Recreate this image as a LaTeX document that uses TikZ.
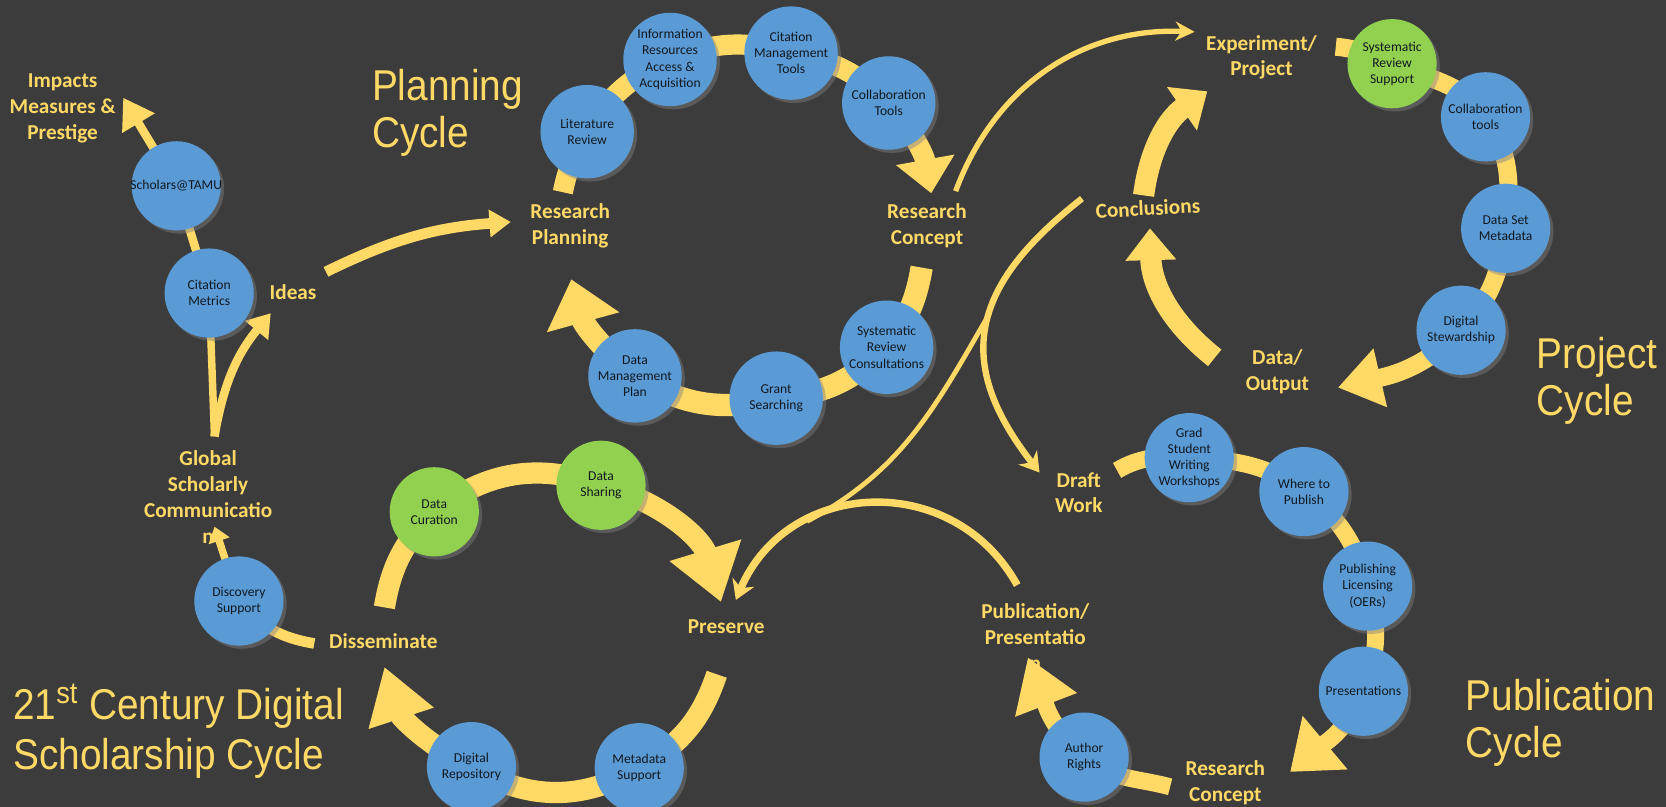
\documentclass[tikz,border=0pt]{standalone}
\usepackage{fontspec}
\setmainfont{Carlito}
\newfontfamily\titlefont[FakeStretch=0.9]{Liberation Sans}
\usepackage{tikz}
\usetikzlibrary{arrows.meta,shadows}
\definecolor{bgdark}{HTML}{3C3C3C}
\definecolor{gold}{HTML}{FFD966}
\definecolor{cblue}{HTML}{5B9BD5}
\definecolor{cgreen}{HTML}{92D050}
\definecolor{cink}{HTML}{111820}
\pgfdeclarelayer{back}
\pgfsetlayers{back,main}

\begin{document}
\begin{tikzpicture}[x=0.5pt, y=-0.5pt,
    circ/.style={circle, fill=cblue, inner sep=0pt, minimum size=42pt, align=center,
        font=\fontsize{6.4}{7.6}\selectfont, text=cink,
        drop shadow={shadow xshift=1.5pt, shadow yshift=-1.5pt, opacity=0.45}},
    pcirc/.style={circ, minimum size=44pt},
    gcirc/.style={circ, fill=cgreen},
    lbl/.style={align=center, text=gold, inner sep=0pt,
        font=\fontsize{10}{12.2}\selectfont\bfseries},
    cycletitle/.style={align=left, anchor=west, text=gold, inner sep=0pt,
        font=\titlefont\fontsize{20.3}{22}\selectfont},
    band/.style={draw=gold, line width=#1}]

    \useasboundingbox (0,0) rectangle (1569,760);
    \begin{pgfonlayer}{back}
        \fill[bgdark] (0,0) rectangle (1569,760);
    \end{pgfonlayer}

    % titles
    \node[cycletitle] (plantitle) at (350,106) {Planning\\Cycle};
    \node[cycletitle, font=\titlefont\fontsize{20.3}{23.5}\selectfont] (dstitle) at (12,689)
        {21\textsuperscript{st} Century Digital\\Scholarship Cycle};
    \node[cycletitle] (prtitle) at (1447,359) {Project\\Cycle};
    \node[cycletitle] (pbtitle) at (1380,681) {Publication\\Cycle};

    % stage labels
    \node[lbl] (impacts) at (59,102) {Impacts\\Measures \&\\Prestige};
    \node[lbl] (ideas) at (276,275) {Ideas};
    \node[lbl] (resplan) at (537,213) {Research\\Planning};
    \node[lbl] (rescon) at (873,213) {Research\\Concept};
    \node[lbl] (global) at (196,468) {Global\\Scholarly\\Communicatio\\n};
    \node[lbl] (dissem) at (361,604) {Disseminate};
    \node[lbl] (preserve) at (684,590) {Preserve};
    \node[lbl] (experiment) at (1188,54) {Experiment/\\Project};
    \node[lbl, rotate=3] (concl) at (1081,196) {Conclusions};
    \node[lbl] (dataout) at (1203,350) {Data/\\Output};
    \node[lbl] (draft) at (1016,464) {Draft\\Work};
    \node[lbl] (pubpres) at (975,600) {Publication/\\Presentatio\\n};
    \node[lbl] (rescon2) at (1154,737) {Research\\Concept};

    % services
    \node[circ] (scholars) at (166,175) {\makebox[0pt]{Scholars@TAMU}};
    \node[circ] (citmet) at (197,276) {Citation\\Metrics};
    \node[pcirc] (litrev) at (553,124) {Literature\\Review};
    \node[pcirc] (infores) at (631,56) {Information\\Resources\\Access \&\\Acquisition};
    \node[pcirc] (citmgmt) at (745,50) {Citation\\Management\\Tools};
    \node[pcirc] (collab) at (837,97) {Collaboration\\Tools};
    \node[pcirc] (sysrev) at (835,327) {Systematic\\Review\\Consultations};
    \node[pcirc] (grant) at (731,375) {Grant\\Searching};
    \node[pcirc] (dmp) at (598,354) {Data\\Management\\Plan};
    \node[circ] (discov) at (225,566) {Discovery\\Support};
    \node[gcirc] (datcur) at (409,482) {Data\\Curation};
    \node[gcirc] (datshare) at (566,457) {Data\\Sharing};
    \node[circ] (digrepo) at (444,722) {Digital\\Repository};
    \node[circ] (metasup) at (602,723) {Metadata\\Support};
    \node[gcirc] (srsup) at (1311,60) {Systematic\\Review\\Support};
    \node[circ] (collabt) at (1399,110) {Collaboration\\tools};
    \node[circ] (dataset) at (1418,215) {Data Set\\Metadata};
    \node[circ] (digstew) at (1376,311) {Digital\\Stewardship};
    \node[circ] (grad) at (1120,431) {Grad\\Student\\Writing\\Workshops};
    \node[circ] (where) at (1228,463) {Where to\\Publish};
    \node[circ] (publ) at (1288,552) {Publishing\\Licensing\\(OERs)};
    \node[circ] (present) at (1284,651) {Presentations};
    \node[circ] (author) at (1021,713) {Author\\Rights};

    % free ends
    \coordinate (pl-a) at (530,181);
    \coordinate (pl-b) at (877,182);
    \coordinate (pl-c) at (868,252);
    \coordinate (pl-d) at (538,263);
    \coordinate (ds-a) at (362,572);
    \coordinate (ds-b) at (679,567);
    \coordinate (ds-c) at (675,635);
    \coordinate (ds-d) at (362,628);
    \coordinate (pr-a) at (1258,44);
    \coordinate (pr-b) at (1260,365);
    \coordinate (do-a) at (1144,337);
    \coordinate (do-b) at (1083,215);
    \coordinate (cc-a) at (1077,184);
    \coordinate (cc-b) at (1137,86);
    \coordinate (pb-a) at (1052,443);
    \coordinate (pb-b) at (1215,727);
    \coordinate (pb-c) at (1102,741);
    \coordinate (pb-d) at (968,619);
    \coordinate (id-a) at (307,256);
    \coordinate (id-b) at (481,209);
    \coordinate (imp-b) at (116,92);
    \coordinate (gl-a) at (202,411);
    \coordinate (gi-b) at (255,295);
    \coordinate (dg-b) at (202,496);
    \coordinate (dd-b) at (296,606);
    \coordinate (rc-a) at (900,180);
    \coordinate (rc-b) at (1125,30);
    \coordinate (cd-a) at (1019,187);
    \coordinate (cd-b) at (979,445);
    \coordinate (br-a) at (932,295);
    \coordinate (br-b) at (760,491);
    \coordinate (pp-a) at (958,551);
    \coordinate (pp-b) at (693,565);

    \begin{pgfonlayer}{back}
    % planning cycle
    \path[band=9.5pt, -{Triangle[length=16pt,width=27pt]}]
        (pl-a) to[bend left=10] (litrev.center) to[bend left=17] (infores.center)
        to[bend left=19] (citmgmt.center) to[bend left=17] (collab.center)
        to[bend left=15] (pl-b);
    \path[band=10.5pt, -{Triangle[length=21pt,width=34pt]}]
        (pl-c) to[bend left=14] (sysrev.center) to[bend left=20] (grant.center)
        to[bend left=23] (dmp.center) to[bend left=18] (pl-d);

    % digital scholarship cycle
    \path[band=10pt, -{Triangle[length=25.5pt,width=33.5pt]}]
        (ds-a) to[bend left=18] (datcur.center) to[bend left=29] (datshare.center)
        to[bend left=29] (ds-b);
    \path[band=10pt, -{Triangle[length=25.5pt,width=30.5pt]}]
        (ds-c) to[bend left=21] (metasup.center) to[bend left=31] (digrepo.center)
        to[bend left=23] (ds-d);
    \path[band=5pt] (discov.center) to[bend right=20] (dd-b);
    \path[band=3.5pt, -{Triangle[length=7pt,width=10pt]}] (discov.center) -- (dg-b);
    \path[band=3.5pt] (gl-a) -- (citmet.center);
    \path[band=4pt, -{Triangle[length=10.5pt,width=13.5pt]}] (gl-a) to[bend left=15] (gi-b);
    \path[band=4pt] (citmet.center) -- (scholars.center);
    \path[band=4pt, -{Triangle[length=14pt,width=17pt]}] (scholars.center) -- (imp-b);
    \path[band=5pt, -{Triangle[length=10pt,width=12.5pt]}] (id-a) to[bend left=11] (id-b);

    % project cycle
    \path[band=8.5pt, -{Triangle[length=20.5pt,width=27pt]}]
        (pr-a) to[out=-5,in=157] (srsup.center) to[out=-23,in=125] (collabt.center)
        to[out=-55,in=83] (dataset.center) to[out=-97,in=46] (digstew.center)
        to[out=-134,in=13] (pr-b);
    \path[band=10pt, -{Triangle[length=15pt,width=23pt]}] (do-a) to[bend left=25] (do-b);
    \path[band=10pt, -{Triangle[length=14.5pt,width=24pt]}] (cc-a) to[bend left=24] (cc-b);

    % publication cycle
    \path[band=8pt, -{Triangle[length=21.5pt,width=31.5pt]}]
        (pb-a) to[out=30,in=177] (grad.center) to[out=-3,in=144] (where.center)
        to[out=-36,in=106] (publ.center) to[out=-74,in=68] (present.center)
        to[out=-112,in=40] (pb-b);
    \path[band=8pt, -{Triangle[length=24pt,width=29.5pt]}]
        (pb-c) to[out=165,in=-40] (author.center) to[out=140,in=-69] (pb-d);

    % links between cycles
    \path[band=2.5pt, -{Stealth[length=9pt,width=9pt]}] (rc-a) to[bend left=36] (rc-b);
    \path[band=3pt, -{Stealth[length=9pt,width=11pt]}]
        (cd-a) to[out=218,in=128,looseness=1.3] (cd-b);
    \path[band=2.25pt] (br-a) to[out=240,in=28] (br-b);
    \path[band=3.5pt, -{Stealth[length=9pt,width=11pt]}]
        (pp-a) to[bend right=64,looseness=1.2] (pp-b);
    \end{pgfonlayer}

\end{tikzpicture}
\end{document}
